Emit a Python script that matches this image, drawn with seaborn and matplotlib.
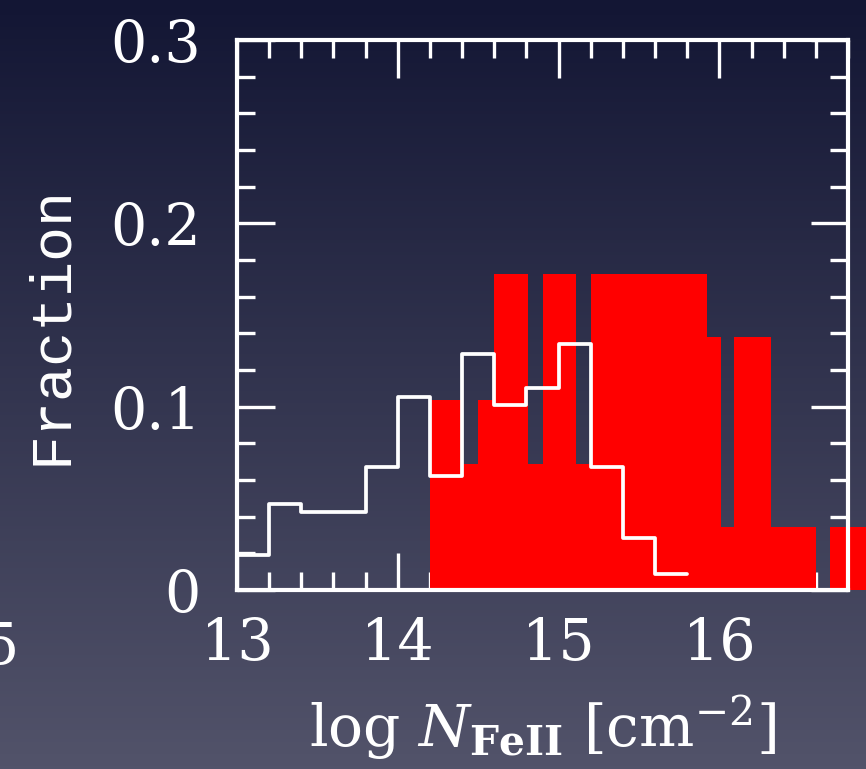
import numpy as np
import matplotlib
matplotlib.use("Agg")
import matplotlib.pyplot as plt
import seaborn as sns
from matplotlib.ticker import MultipleLocator

# ---- data ----
# white outline histogram (bin width 0.2)
white_edges = [13.0, 13.2, 13.4, 13.6, 13.8, 14.0, 14.2, 14.4, 14.6, 14.8,
               15.0, 15.2, 15.4, 15.6, 15.8]
white_vals = [0.019, 0.047, 0.0425, 0.0425, 0.067, 0.1055, 0.062, 0.129,
              0.101, 0.110, 0.134, 0.067, 0.0285, 0.009]

# red filled histogram (irregular edges)
red_edges = [14.2, 14.4, 14.5, 14.6, 14.81, 14.9, 15.11, 15.2, 15.92, 16.01,
             16.09, 16.32, 16.6, 16.69, 17.0]
red_vals = [0.1035, 0.069, 0.1035, 0.1725, 0.069, 0.1725, 0.069, 0.1725,
            0.138, 0.0345, 0.138, 0.0345, 0.0, 0.0345]

xticks = [13, 14, 15, 16]
yticks = [0, 0.1, 0.2, 0.3]
ytick_labels = ["0", "0.1", "0.2", "0.3"]

# ---- figure ----
sns.set_style("ticks")
plt.rcParams["font.family"] = ["DejaVu Serif"]
plt.rcParams["mathtext.fontset"] = "dejavuserif"

W, H, DPI = 866, 769, 100
fig = plt.figure(figsize=(W / DPI, H / DPI), dpi=DPI)

# gradient background
bg = fig.add_axes([0, 0, 1, 1], zorder=-10)
top = np.array([19, 22, 52]) / 255
bot = np.array([82, 83, 106]) / 255
t = np.linspace(0, 1, 256)[:, None]
grad = top[None, :] * (1 - t) + bot[None, :] * t
bg.imshow(grad[:, None, :].repeat(2, axis=1), aspect="auto", extent=[0, 1, 0, 1])
bg.set_axis_off()

x0, x1 = 13.0, 16.8
ax = fig.add_axes([237 / W, 1 - 590 / H, 611 / W, 550 / H])
ax.set_facecolor("none")

rc = np.array(red_edges)
red_centers = (rc[:-1] + rc[1:]) / 2
sns.histplot(x=red_centers, weights=red_vals, bins=red_edges, element="bars",
             fill=True, color="#ff0000", alpha=1, linewidth=0, ax=ax, zorder=2)
for p in ax.patches:
    p.set_clip_on(False)
    p.set_facecolor("#ff0000")
    p.set_edgecolor("none")

wc = np.array(white_edges)
white_centers = (wc[:-1] + wc[1:]) / 2
sns.histplot(x=white_centers, weights=white_vals, bins=white_edges,
             element="step", fill=False, color="white", linewidth=2.7,
             ax=ax, zorder=3)

ax.set_xlim(x0, x1)
ax.set_ylim(0, 0.3)

for s in ax.spines.values():
    s.set_color("white")
    s.set_linewidth(3)
    s.set_visible(True)
    s.set_zorder(5)

ax.set_xticks(xticks)
ax.set_xticklabels([str(v) for v in xticks])
ax.set_yticks(yticks)
ax.set_yticklabels(ytick_labels)
ax.xaxis.set_minor_locator(MultipleLocator(0.2))
ax.yaxis.set_minor_locator(MultipleLocator(0.02))
ax.tick_params(which="both", direction="in", top=True, right=True,
               color="white", width=2.4, labelcolor="white")
ax.tick_params(which="major", length=27)
ax.tick_params(which="minor", length=13)
ax.tick_params(axis="x", which="major", pad=19, labelsize=41)
ax.tick_params(axis="y", which="major", pad=26, labelsize=41)

ax.set_ylabel("Fraction", color="white", fontsize=42,
              family=["Liberation Mono", "DejaVu Sans Mono"], va="center")
ax.yaxis.set_label_coords(-0.304, 0.482)
ax.set_xlabel(r"log $\mathit{N}_{\mathbf{FeII}}$ [cm$^{-2}$]", color="white",
              fontsize=42, labelpad=15)

fig.text(0.0, 1 - 648 / H, "5", color="white", fontsize=41, ha="center",
         va="center", family=["DejaVu Serif"])

fig.savefig("out.png", dpi=DPI)
